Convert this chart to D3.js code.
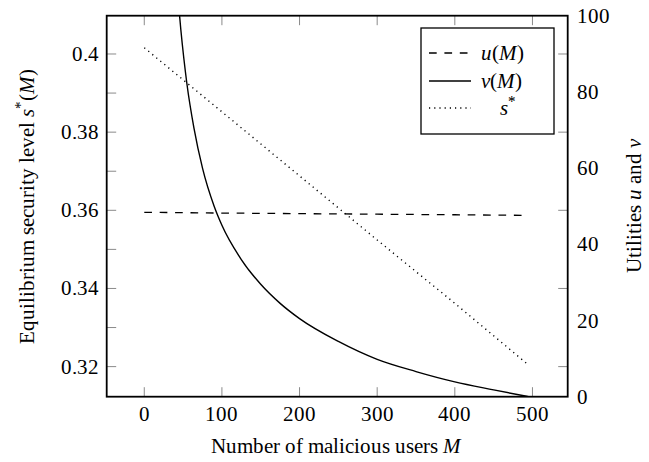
<!DOCTYPE html>
<html><head><meta charset="utf-8">
<style>
    @font-face { font-family: "PlotSerif"; font-style: normal; font-weight: 400;
        src: local("Liberation Serif"), local("LiberationSerif"), local("Tinos"), local("Times New Roman"); }
    @font-face { font-family: "PlotSerif"; font-style: italic; font-weight: 400;
        src: local("Liberation Serif Italic"), local("LiberationSerif-Italic"), local("Tinos Italic"), local("Times New Roman Italic"); }
    body { margin: 0; font-family: "PlotSerif", "Liberation Serif"; }
    svg text { font-family: "PlotSerif", "Liberation Serif" !important; }
</style>
</head>
<body>
<svg id="chart" width="649" height="462"></svg>
<script src="https://d3js.org/d3.v7.min.js"></script>
<script>
// values
const sM = [0, 100, 200, 300, 400, 495]
const sVal = [0.4016, 0.3852, 0.3688, 0.3524, 0.3362, 0.3204]

const uM = [0, 100, 200, 300, 400, 495]
const uVal = [48.4, 48.2, 48.05, 47.9, 47.75, 47.6]

const vM = [42, 47, 55, 64, 75, 90, 100, 125, 150, 175, 200, 250, 300, 350, 400, 450, 495]
const vVal = [108, 96.5, 82, 70.5, 60, 50, 45, 36, 29.5, 24.5, 20.5, 14.5, 9.8, 6.6, 3.9, 1.8, 0]

const xTicks = [0, 100, 200, 300, 400, 500]
const leftTicks = [0.32, 0.33, 0.34, 0.35, 0.36, 0.37, 0.38, 0.39, 0.40]
const leftLabels = [0.32, 0.34, 0.36, 0.38, 0.40]
const rightTicks = [0, 20, 40, 60, 80, 100]

const margin = { top: 15.7, right: 81.3, bottom: 65.3, left: 106.7 }
const W = 649, H = 462
const svg = d3.select('#chart')

const x = d3.scaleLinear().domain([-48.4, 545.4]).range([margin.left, W - margin.right])
const yL = d3.scaleLinear().domain([0.3123, 0.4098]).range([H - margin.bottom, margin.top])
const yR = d3.scaleLinear().domain([0, 100]).range([H - margin.bottom, margin.top])

const x0 = margin.left, x1 = W - margin.right, y0 = margin.top, y1 = H - margin.bottom
const tickLen = 9.5
const tickColor = '#8a8a8a'
const fs = 21

function txt(parent, px, py, anchor) {
    return parent.append('text').attr('x', px).attr('y', py).attr('font-size', fs)
        .attr('text-anchor', anchor || 'start')
}

svg.append('clipPath').attr('id', 'clip')
    .append('rect').attr('x', x0).attr('y', y0).attr('width', x1 - x0).attr('height', y1 - y0)

// tick marks (inward)
const ticks = svg.append('g').attr('stroke', tickColor).attr('stroke-width', 1)
xTicks.forEach(t => {
    ticks.append('line').attr('x1', x(t)).attr('x2', x(t)).attr('y1', y1).attr('y2', y1 - tickLen)
    ticks.append('line').attr('x1', x(t)).attr('x2', x(t)).attr('y1', y0).attr('y2', y0 + tickLen)
})
leftTicks.forEach(t => {
    ticks.append('line').attr('x1', x0).attr('x2', x0 + tickLen).attr('y1', yL(t)).attr('y2', yL(t))
})
leftLabels.forEach(t => {
    ticks.append('line').attr('x1', x1).attr('x2', x1 - tickLen).attr('y1', yL(t)).attr('y2', yL(t))
})

// tick labels
xTicks.forEach(d => txt(svg, x(d), y1 + 24, 'middle').text(d))
leftLabels.forEach(d => txt(svg, x0 - 8, yL(d) + 7, 'end').text(d3.format('.2~f')(d)))
rightTicks.forEach(d => txt(svg, x1 + 9, yR(d) + 7, 'start').text(d))

// curves
const plot = svg.append('g').attr('clip-path', 'url(#clip)').attr('fill', 'none').attr('stroke', '#000')

plot.append('path')
    .datum(uM.map((m, i) => [m, uVal[i]]))
    .attr('stroke-width', 1.3).attr('stroke-dasharray', '7.7,7.7')
    .attr('d', d3.line().x(d => x(d[0])).y(d => yR(d[1])))

plot.append('path')
    .datum(vM.map((m, i) => [m, vVal[i]]))
    .attr('stroke-width', 1.4)
    .attr('d', d3.line().curve(d3.curveMonotoneX).x(d => x(d[0])).y(d => yR(d[1])))

plot.append('path')
    .datum(sM.map((m, i) => [m, sVal[i]]))
    .attr('stroke-width', 1.4).attr('stroke-dasharray', '1.2,4')
    .attr('d', d3.line().x(d => x(d[0])).y(d => yL(d[1])))

// frame
svg.append('rect').attr('x', x0).attr('y', y0).attr('width', x1 - x0).attr('height', y1 - y0)
    .attr('fill', 'none').attr('stroke', '#000').attr('stroke-width', 1.8)

// legend
const lg = svg.append('g')
lg.append('rect').attr('x', 421).attr('y', 28).attr('width', 133).attr('height', 106)
    .attr('fill', '#fff').attr('stroke', '#000').attr('stroke-width', 1.3)
const legendItems = [
    { dash: '7.7,7.7', name: 'u', y: 53 },
    { dash: null, name: 'v', y: 81 },
    { dash: '1.2,4', name: 's', y: 108 }
]
legendItems.forEach(it => {
    const l = lg.append('line').attr('x1', 429).attr('x2', 471).attr('y1', it.y).attr('y2', it.y)
        .attr('stroke', '#000').attr('stroke-width', it.dash === '1.2,4' ? 1.4 : 1.3)
    if (it.dash) l.attr('stroke-dasharray', it.dash)
    if (it.name === 's') {
        const t = txt(lg, 508, it.y + 7, 'middle')
        t.append('tspan').attr('font-style', 'italic').text('s')
        t.append('tspan').attr('font-size', 15).attr('dy', -9).text('*')
    } else {
        const t = txt(lg, 481, it.y + 7, 'start')
        t.append('tspan').attr('font-style', 'italic').text(it.name)
        t.append('tspan').text('(')
        t.append('tspan').attr('font-style', 'italic').text('M')
        t.append('tspan').text(')')
    }
})

// axis titles
const xt = txt(svg, 336, 453, 'middle')
xt.append('tspan').text('Number of malicious users ')
xt.append('tspan').attr('font-style', 'italic').text('M')

const lt = txt(svg, 0, 0, 'middle').attr('transform', `translate(34,${(y0 + y1) / 2}) rotate(-90)`)
lt.append('tspan').text('Equilibrium security level ')
lt.append('tspan').attr('font-style', 'italic').text('s')
lt.append('tspan').attr('font-size', 15).attr('dy', -9).text('*')
lt.append('tspan').attr('dy', 9).text('(')
lt.append('tspan').attr('font-style', 'italic').text('M')
lt.append('tspan').text(')')

const rt = txt(svg, 0, 0, 'middle').attr('transform', `translate(641,${(y0 + y1) / 2}) rotate(-90)`)
rt.append('tspan').text('Utilities ')
rt.append('tspan').attr('font-style', 'italic').text('u')
rt.append('tspan').text(' and ')
rt.append('tspan').attr('font-style', 'italic').text('v')
</script>
</body>
</html>
